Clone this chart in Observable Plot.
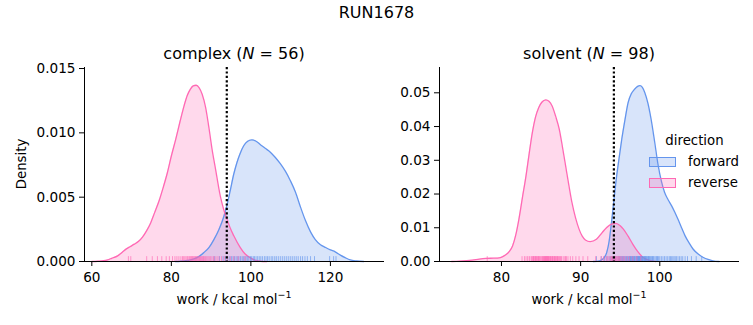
<!DOCTYPE html>
<html><head><meta charset="utf-8">
<script src="https://cdn.jsdelivr.net/npm/d3@7"></script>
<script src="https://cdn.jsdelivr.net/npm/@observablehq/plot@0.6"></script>
<style>
body{margin:0;background:#fff;font-family:"DejaVu Sans",sans-serif;color:#000}
#fig{position:relative;width:753px;height:325px;overflow:hidden;background:#fff}
.abs{position:absolute;white-space:nowrap;line-height:1}
.ttl{font-size:16px;transform:translate(-50%,-50%)}
.lab{font-size:13.3px;transform:translate(-50%,-50%)}
.sw{position:absolute;box-sizing:border-box;width:27px;height:10px;border:1.3px solid}
sup{font-size:9.5px;vertical-align:0;position:relative;top:-6px}
svg{position:absolute;top:0}
</style></head><body><div id="fig"></div><script>
// ---- data ----
const suptitle = "RUN1678";
const directions = ["forward", "reverse"];
const colors = ["#6495ED", "#FF69B4"];

// complex panel KDE curves (work, density)
const cxFwdX = [81,82.3,84,85.7,87,88.2,89.5,90.7,92,93.2,94.0,94.8,95.7,96.5,97.3,98.2,99.2,100.25,101.3,102.35,103.6,104.9,106.1,107.4,108.7,109.9,111.2,112.4,113.7,115,116.2,117.5,118.7,120,121.2,122.5,123.7,125,126.5,128.4];
const cxFwdY = [0,0.00002,0.00008,0.0002,0.0004,0.0007,0.0011,0.0017,0.0025,0.0035,0.0044,0.0055,0.0068,0.0077,0.0084,0.0090,0.00935,0.00946,0.00935,0.0091,0.0088,0.0085,0.0081,0.0076,0.0070,0.0063,0.0054,0.0043,0.0032,0.0023,0.0017,0.0013,0.0011,0.0009,0.00075,0.0005,0.0003,0.00012,0.00004,0];
const cxRevX = [60,61.5,63,64,65,66.5,67.6,68.6,69.6,70.7,71.7,72.75,73.8,74.8,75.8,76.9,78,79,80,81.1,82.2,83.2,84.0,84.8,85.5,86.25,87.0,87.75,88.6,89.4,90.2,91.1,92.3,93.2,94.0,94.8,95.7,97.3,98.5,99.8,101,102.4,104];
const cxRevY = [0,0.00002,0.00006,0.00013,0.00025,0.00044,0.0007,0.00096,0.00115,0.00135,0.00155,0.0019,0.0024,0.0030,0.0038,0.0047,0.0058,0.0069,0.0082,0.0095,0.0109,0.0121,0.0129,0.0134,0.01365,0.0137,0.0135,0.0130,0.0120,0.0105,0.0088,0.0072,0.0051,0.0040,0.0033,0.0026,0.0020,0.0011,0.0006,0.0003,0.0001,0.00002,0];
// solvent panel KDE curves
const svFwdX = [91.6,92.4,93.0,93.3,93.6,93.9,94.2,94.5,94.85,95.2,95.6,96.0,96.4,96.8,97.2,97.5,97.8,98.1,98.5,98.9,99.35,99.8,100.2,100.6,101.05,101.5,101.9,102.3,102.75,103.2,103.7,104.2,104.85,105.5,106.1,106.7,107.5];
const svFwdY = [0,0.0002,0.0012,0.0027,0.006,0.0116,0.018,0.0244,0.0305,0.0363,0.042,0.0471,0.0497,0.051,0.0519,0.0521,0.0516,0.0501,0.0469,0.0422,0.0355,0.0284,0.0238,0.0205,0.0183,0.0165,0.0146,0.0125,0.0100,0.0076,0.0055,0.0037,0.0022,0.0012,0.0006,0.0002,0];
const svRevX = [73.7,74.7,76.3,77.2,78,79,79.7,80.1,80.5,81.0,81.4,81.8,82.2,82.65,83.1,83.5,83.9,84.3,84.7,85.1,85.6,86.0,86.4,86.85,87.3,87.7,88.1,88.5,88.9,89.35,89.8,90.2,90.6,91.2,92.0,92.7,93.3,93.9,94.45,95.0,95.4,96.0,96.6,97.2,97.9,98.7,99.5];
const svRevY = [0,0.0001,0.0004,0.0007,0.0009,0.001,0.0011,0.0014,0.0019,0.003,0.0046,0.0078,0.0125,0.019,0.0254,0.032,0.0382,0.0428,0.0456,0.0472,0.0479,0.0475,0.0461,0.043,0.0392,0.034,0.0284,0.0228,0.0175,0.013,0.0096,0.0075,0.0064,0.0059,0.0066,0.0085,0.0101,0.0111,0.0113,0.0106,0.0096,0.0075,0.0051,0.003,0.0012,0.0003,0];

// rug samples (work values)
const cxFwdRug = [90.8,92.1,93.0,93.6,94.2,94.7,95.1,95.5,95.9,96.3,96.7,97.0,97.4,97.8,98.1,98.5,98.8,99.2,99.5,99.9,100.2,100.6,100.9,101.3,101.7,102.1,102.5,102.9,103.4,103.8,104.2,104.6,105.1,105.5,106.0,106.4,106.9,107.4,107.9,108.4,108.9,109.4,109.9,110.4,110.9,111.4,111.9,112.5,113.0,113.6,114.2,115.0,116.0,119.8,120.8,121.4];
const cxRevRug = [69.2,69.8,73.8,75.2,76.5,77.6,78.7,79.5,80.3,80.9,81.4,81.9,82.4,82.8,83.1,83.4,83.7,84.0,84.2,84.5,84.7,84.9,85.1,85.3,85.5,85.7,85.9,86.1,86.3,86.5,86.7,86.9,87.1,87.3,87.5,87.7,87.9,88.1,88.3,88.6,88.9,89.2,89.5,89.8,90.2,90.6,91.0,91.5,92.0,92.6,93.3,94.0,94.8,95.7,96.8,98.5];
const svFwdRug = [92.0,92.6,93.0,93.3,93.6,93.8,94.0,94.2,94.4,94.6,94.8,94.9,95.0,95.1,95.2,95.3,95.4,95.5,95.6,95.7,95.8,95.9,96.0,96.1,96.2,96.3,96.35,96.4,96.5,96.6,96.7,96.75,96.8,96.9,97.0,97.05,97.1,97.2,97.25,97.3,97.35,97.4,97.5,97.55,97.6,97.65,97.7,97.8,97.85,97.9,98.0,98.1,98.2,98.3,98.4,98.5,98.6,98.7,98.8,98.9,99.0,99.1,99.25,99.4,99.55,99.7,99.85,100.0,100.2,100.4,100.6,100.8,101.0,101.2,101.35,101.5,101.65,101.8,101.95,102.1,102.3,102.5,102.7,102.9,103.2,103.5,104.0,104.6,105.3,96.15,96.55,97.15,97.45,98.05,98.25,98.55,99.15,99.65];
const svRevRug = [78.2,82.6,82.9,83.1,83.3,83.5,83.6,83.8,83.9,84.0,84.1,84.2,84.3,84.4,84.5,84.6,84.7,84.8,84.9,85.0,85.1,85.2,85.3,85.4,85.45,85.5,85.6,85.65,85.7,85.8,85.85,85.9,86.0,86.1,86.2,86.3,86.4,86.5,86.6,86.7,86.8,86.9,87.0,87.1,87.2,87.35,87.5,87.6,87.8,88.0,88.2,88.4,88.7,89.0,89.4,89.8,90.3,90.9,91.9,92.6,92.9,93.2,93.4,93.6,93.8,93.9,94.0,94.1,94.2,94.3,94.4,94.5,94.6,94.7,94.8,94.9,95.0,95.2,95.4,95.6,95.9,96.2,96.6,97.1,97.6,84.05,84.35,84.65,85.25,85.55,85.75,85.95,86.15,86.45,86.75,87.05,87.4,88.1];

const panels = [
  {title:"complex", n:56, left:0, width:390, mL:84, mR:6, xDom:[58.16,133.6], yDom:[0,0.01508],
   xTicks:[60,80,100,120], yTicks:[0,0.005,0.010,0.015], yFmt:".3f", vline:93.94,
   fwd:[cxFwdX,cxFwdY,cxFwdRug], rev:[cxRevX,cxRevY,cxRevRug], ylabel:"Density"},
  {title:"solvent", n:98, left:390, width:363, mL:49, mR:14, xDom:[72.17,110.07], yDom:[0,0.0575],
   xTicks:[80,90,100], yTicks:[0,0.01,0.02,0.03,0.04,0.05], yFmt:".2f", vline:94.2,
   fwd:[svFwdX,svFwdY,svFwdRug], rev:[svRevX,svRevY,svRevRug], ylabel:null}
];

const fig = document.getElementById("fig");
const H = 325, mT = 67, mB = 64;

function add(html, cls, x, y, extra) {
  const d = document.createElement("div");
  d.className = "abs " + cls;
  d.style.left = x + "px"; d.style.top = y + "px";
  if (extra) Object.assign(d.style, extra);
  d.innerHTML = html;
  fig.appendChild(d);
  return d;
}

for (const p of panels) {
  const series = [p.fwd, p.rev];
  const marks = [];
  series.forEach((s, i) => {
    const pts = s[0].map((x, k) => ({x, y: s[1][k]}));
    marks.push(Plot.areaY(pts, {x:"x", y:"y", fill:colors[i], fillOpacity:0.25, curve:"monotone-x"}));
  });
  series.forEach((s, i) => {
    const pts = s[0].map((x, k) => ({x, y: s[1][k]}));
    marks.push(Plot.lineY(pts, {x:"x", y:"y", stroke:colors[i], strokeWidth:1.3, curve:"monotone-x"}));
  });
  const rugTop = p.yDom[1] * 0.025;
  series.forEach((s, i) => {
    marks.push(Plot.ruleX(s[2], {x:d=>d, y1:0, y2:rugTop, stroke:colors[i], strokeWidth:1, strokeOpacity:0.65}));
  });
  marks.push(Plot.ruleX([p.vline], {stroke:"black", strokeWidth:2.2, strokeDasharray:"2.2,2.2"}));
  marks.push(Plot.ruleY([p.yDom[0]], {stroke:"black", strokeWidth:1}));
  marks.push(Plot.ruleX([p.xDom[0]], {stroke:"black", strokeWidth:1}));
  marks.push(Plot.axisX({ticks:p.xTicks, tickSize:5, tickPadding:6, label:null, fontSize:13.6}));
  marks.push(Plot.axisY({ticks:p.yTicks, tickFormat:d3.format(p.yFmt), tickSize:5, tickPadding:4, label:null, fontSize:13.6}));
  const svg = Plot.plot({
    width:p.width, height:H, marginLeft:p.mL, marginRight:p.mR, marginTop:mT, marginBottom:mB,
    style:{fontFamily:"DejaVu Sans", fontSize:"13.6px", color:"black", background:"transparent", overflow:"visible"},
    x:{domain:p.xDom}, y:{domain:p.yDom},
    marks
  });
  svg.style.left = p.left + "px";
  fig.appendChild(svg);
  const cx = p.left + p.mL + (p.width - p.mL - p.mR) / 2;
  add(`${p.title} (<i>N</i> = ${p.n})`, "ttl", cx, 54);
  add(`work / kcal mol<sup>−1</sup>`, "lab", cx, 300);
  if (p.ylabel) add(p.ylabel, "lab", 22, (mT + H - mB) / 2, {transform:"translate(-50%,-50%) rotate(-90deg)"});
}

add(suptitle, "ttl", 376.5, 13);
// legend
add("direction", "lab", 694.5, 141);
directions.forEach((d, i) => {
  const y = 157 + i * 21;
  const sw = document.createElement("div");
  sw.className = "sw";
  sw.style.left = "649px"; sw.style.top = y + "px";
  sw.style.borderColor = colors[i];
  sw.style.background = d3.color(colors[i]).copy({opacity:0.25}).formatRgb();
  fig.appendChild(sw);
  add(d, "lab", 688, y + 5, {transform:"translate(0,-50%)"});
});
</script></body></html>
